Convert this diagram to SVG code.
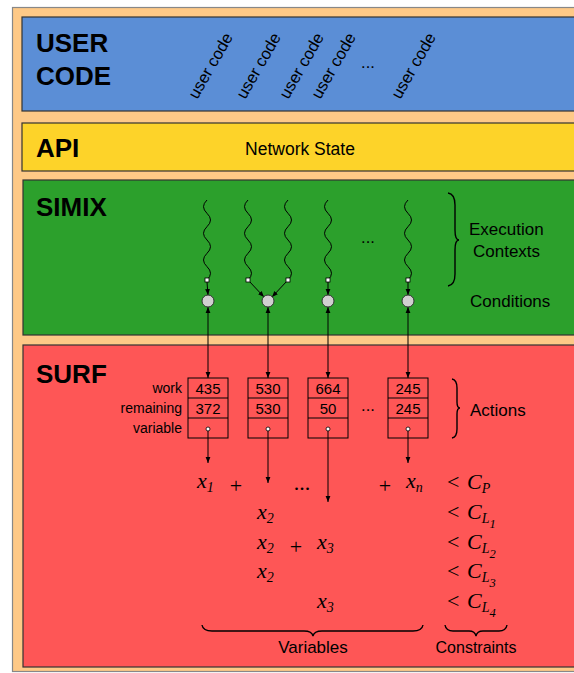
<svg xmlns="http://www.w3.org/2000/svg" xmlns:xlink="http://www.w3.org/1999/xlink" width="574" height="673" viewBox="0 0 574 673">
<style>
.layer{stroke:#333;stroke-width:1.2}
.title{font-family:"Liberation Sans",Arial,sans-serif;font-weight:bold;font-size:26px;fill:#000}
.lbl{font-family:"Liberation Sans",Arial,sans-serif;font-size:17px;fill:#000}
.uc{font-family:"Liberation Sans",Arial,sans-serif;font-size:16.5px;fill:#000}
.sm{font-family:"Liberation Sans",Arial,sans-serif;font-size:14px;fill:#000}
.num{font-family:"Liberation Sans",Arial,sans-serif;font-size:15px;fill:#000;text-anchor:middle}
.m{font-family:"Liberation Serif","Times New Roman",serif;font-style:italic;font-size:22px;fill:#000}
.mu{font-family:"Liberation Serif","Times New Roman",serif;font-size:22px;fill:#000}
.wave{fill:none;stroke:#000;stroke-width:1}
.ln{fill:none;stroke:#000;stroke-width:1}
.brace{fill:none;stroke:#000;stroke-width:1.4}
.cell{fill:none;stroke:#000;stroke-width:1}
.sq{fill:#fff;stroke:#000;stroke-width:0.8}
.cond{fill:#d0d0d0;stroke:#333;stroke-width:1}
.dot{fill:#fff;stroke:#000;stroke-width:0.8}
</style>
<defs>
<marker id="ah" viewBox="0 0 10 10" refX="10" refY="5" markerWidth="6" markerHeight="6" orient="auto-start-reverse" markerUnits="userSpaceOnUse">
<path d="M0,1 L10,5 L0,9 z" fill="#000"/>
</marker>
<path id="wv" class="wave" d="M0,200 q-7,6.67 0,13.33 t0,13.33 t0,13.33 t0,13.33 t0,13.33 t0,13.33"/>
</defs>

<rect x="12.5" y="7.5" width="580" height="664" fill="#fec987" stroke="#888" stroke-width="1.2"/>

<g id="user-code">
<rect class="layer" x="22" y="17" width="570" height="94" fill="#5b8ed6"/>
<text class="title" x="36" y="52">USER</text>
<text class="title" x="36" y="85">CODE</text>
<text class="uc" text-anchor="middle" transform="translate(211,66) rotate(-60)" dy="5">user code</text>
<text class="uc" text-anchor="middle" transform="translate(259,66) rotate(-60)" dy="5">user code</text>
<text class="uc" text-anchor="middle" transform="translate(302,66) rotate(-60)" dy="5">user code</text>
<text class="uc" text-anchor="middle" transform="translate(334,66) rotate(-60)" dy="5">user code</text>
<text class="uc" x="368" y="68" text-anchor="middle">...</text>
<text class="uc" text-anchor="middle" transform="translate(414,66) rotate(-60)" dy="5">user code</text>
</g>

<g id="api">
<rect class="layer" x="22" y="123" width="570" height="48" fill="#fdd329"/>
<text class="title" x="36" y="157">API</text>
<text class="lbl" x="300" y="155" text-anchor="middle" style="font-size:17.5px">Network State</text>
</g>

<g id="simix">
<rect class="layer" x="23" y="180" width="570" height="155" fill="#2ca02c"/>
<text class="title" x="36" y="216">SIMIX</text>
<use xlink:href="#wv" transform="translate(207,0)"/>
<use xlink:href="#wv" transform="translate(248,0)"/>
<use xlink:href="#wv" transform="translate(288,0)"/>
<use xlink:href="#wv" transform="translate(328,0)"/>
<use xlink:href="#wv" transform="translate(408,0)"/>
<text class="uc" x="368" y="243" text-anchor="middle">...</text>
<path class="brace" d="M448,193 Q455,194 455,205 L455,230 Q455,240 459,240 Q455,240 455,250 L455,274 Q455,285 448,286"/>
<text class="lbl" x="469" y="235">Execution</text>
<text class="lbl" x="473" y="257">Contexts</text>
<text class="lbl" x="470" y="307">Conditions</text>
</g>

<g id="surf">
<rect class="layer" x="23" y="345" width="570" height="322" fill="#fe5656"/>
<text class="title" x="36" y="383">SURF</text>
<text class="sm" x="182" y="393" text-anchor="end">work</text>
<text class="sm" x="182" y="413" text-anchor="end">remaining</text>
<text class="sm" x="182" y="433" text-anchor="end">variable</text>
<g id="action1">
<rect class="cell" x="188" y="378" width="40" height="60"/>
<line class="ln" x1="188" y1="398" x2="228" y2="398"/><line class="ln" x1="188" y1="418" x2="228" y2="418"/>
<text class="num" x="208" y="394">435</text><text class="num" x="208" y="414">372</text>
</g>
<g id="action2">
<rect class="cell" x="248" y="378" width="40" height="60"/>
<line class="ln" x1="248" y1="398" x2="288" y2="398"/><line class="ln" x1="248" y1="418" x2="288" y2="418"/>
<text class="num" x="268" y="394">530</text><text class="num" x="268" y="414">530</text>
</g>
<g id="action3">
<rect class="cell" x="308" y="378" width="40" height="60"/>
<line class="ln" x1="308" y1="398" x2="348" y2="398"/><line class="ln" x1="308" y1="418" x2="348" y2="418"/>
<text class="num" x="328" y="394">664</text><text class="num" x="328" y="414">50</text>
</g>
<text class="uc" x="368" y="411" text-anchor="middle">...</text>
<g id="action4">
<rect class="cell" x="388" y="378" width="40" height="60"/>
<line class="ln" x1="388" y1="398" x2="428" y2="398"/><line class="ln" x1="388" y1="418" x2="428" y2="418"/>
<text class="num" x="408" y="394">245</text><text class="num" x="408" y="414">245</text>
</g>
<path class="brace" d="M452,379 Q457,380 457,388 L457,402 Q457,408 460,408 Q457,408 457,414 L457,429 Q457,437 452,438"/>
<text class="lbl" x="470" y="416">Actions</text>

<g id="equations">
<text class="m" x="197" y="488">x<tspan font-size="14" dy="4">1</tspan></text>
<text class="mu" x="236" y="493" text-anchor="middle">+</text>
<text class="mu" x="302" y="490" text-anchor="middle">...</text>
<text class="mu" x="385" y="493" text-anchor="middle">+</text>
<text class="m" x="406" y="488">x<tspan font-size="14" dy="4">n</tspan></text>
<text class="m" x="257" y="519">x<tspan font-size="14" dy="4">2</tspan></text>
<text class="m" x="257" y="549">x<tspan font-size="14" dy="4">2</tspan></text>
<text class="mu" x="296" y="554" text-anchor="middle">+</text>
<text class="m" x="317" y="549">x<tspan font-size="14" dy="4">3</tspan></text>
<text class="m" x="257" y="578">x<tspan font-size="14" dy="4">2</tspan></text>
<text class="m" x="317" y="608">x<tspan font-size="14" dy="4">3</tspan></text>
<text class="mu" x="447" y="489">&lt;</text>
<text class="m" x="467" y="489">C<tspan font-size="14" dy="4">P</tspan></text>
<text class="mu" x="447" y="519">&lt;</text>
<text class="m" x="467" y="519">C<tspan font-size="14" dy="4">L</tspan><tspan font-size="12.5" dy="5">1</tspan></text>
<text class="mu" x="447" y="549">&lt;</text>
<text class="m" x="467" y="549">C<tspan font-size="14" dy="4">L</tspan><tspan font-size="12.5" dy="5">2</tspan></text>
<text class="mu" x="447" y="578">&lt;</text>
<text class="m" x="467" y="578">C<tspan font-size="14" dy="4">L</tspan><tspan font-size="12.5" dy="5">3</tspan></text>
<text class="mu" x="447" y="608">&lt;</text>
<text class="m" x="467" y="608">C<tspan font-size="14" dy="4">L</tspan><tspan font-size="12.5" dy="5">4</tspan></text>
</g>
<path class="brace" d="M202,625 Q203,631 212,631 L304,631 Q312,631 313,636 Q314,631 322,631 L413,631 Q422,631 423,625"/>
<text class="lbl" x="313" y="653" text-anchor="middle">Variables</text>
<path class="brace" d="M445,625 Q446,631 453,631 L469,631 Q475,631 476,636 Q477,631 483,631 L499,631 Q506,631 507,625"/>
<text class="lbl" x="476" y="653" text-anchor="middle" style="font-size:16px">Constraints</text>
</g>

<g id="connectors">
<line class="ln" x1="207" y1="282" x2="208" y2="295" marker-end="url(#ah)"/>
<line class="ln" x1="249" y1="281" x2="264" y2="297" marker-end="url(#ah)"/>
<line class="ln" x1="287" y1="281" x2="272" y2="297" marker-end="url(#ah)"/>
<line class="ln" x1="328" y1="282" x2="328" y2="295" marker-end="url(#ah)"/>
<line class="ln" x1="408" y1="282" x2="408" y2="295" marker-end="url(#ah)"/>
<line class="ln" x1="208" y1="307" x2="208" y2="378" marker-start="url(#ah)" marker-end="url(#ah)"/>
<line class="ln" x1="268" y1="307" x2="268" y2="378" marker-start="url(#ah)" marker-end="url(#ah)"/>
<line class="ln" x1="328" y1="307" x2="328" y2="378" marker-start="url(#ah)" marker-end="url(#ah)"/>
<line class="ln" x1="408" y1="307" x2="408" y2="378" marker-start="url(#ah)" marker-end="url(#ah)"/>
<line class="ln" x1="208" y1="430" x2="208" y2="463" marker-end="url(#ah)"/>
<line class="ln" x1="268" y1="430" x2="268" y2="483" marker-end="url(#ah)"/>
<line class="ln" x1="328" y1="430" x2="328" y2="502" marker-end="url(#ah)"/>
<line class="ln" x1="408" y1="430" x2="408" y2="463" marker-end="url(#ah)"/>
</g>

<g id="condition-nodes">
<rect class="sq" x="205" y="278" width="4" height="4"/>
<rect class="sq" x="246" y="278" width="4" height="4"/>
<rect class="sq" x="286" y="278" width="4" height="4"/>
<rect class="sq" x="326" y="278" width="4" height="4"/>
<rect class="sq" x="406" y="278" width="4" height="4"/>
<circle class="cond" cx="208" cy="301" r="6"/>
<circle class="cond" cx="268" cy="301" r="6"/>
<circle class="cond" cx="328" cy="301" r="6"/>
<circle class="cond" cx="408" cy="301" r="6"/>
<circle class="dot" cx="208" cy="429" r="2"/>
<circle class="dot" cx="268" cy="429" r="2"/>
<circle class="dot" cx="328" cy="429" r="2"/>
<circle class="dot" cx="408" cy="429" r="2"/>
</g>
</svg>
